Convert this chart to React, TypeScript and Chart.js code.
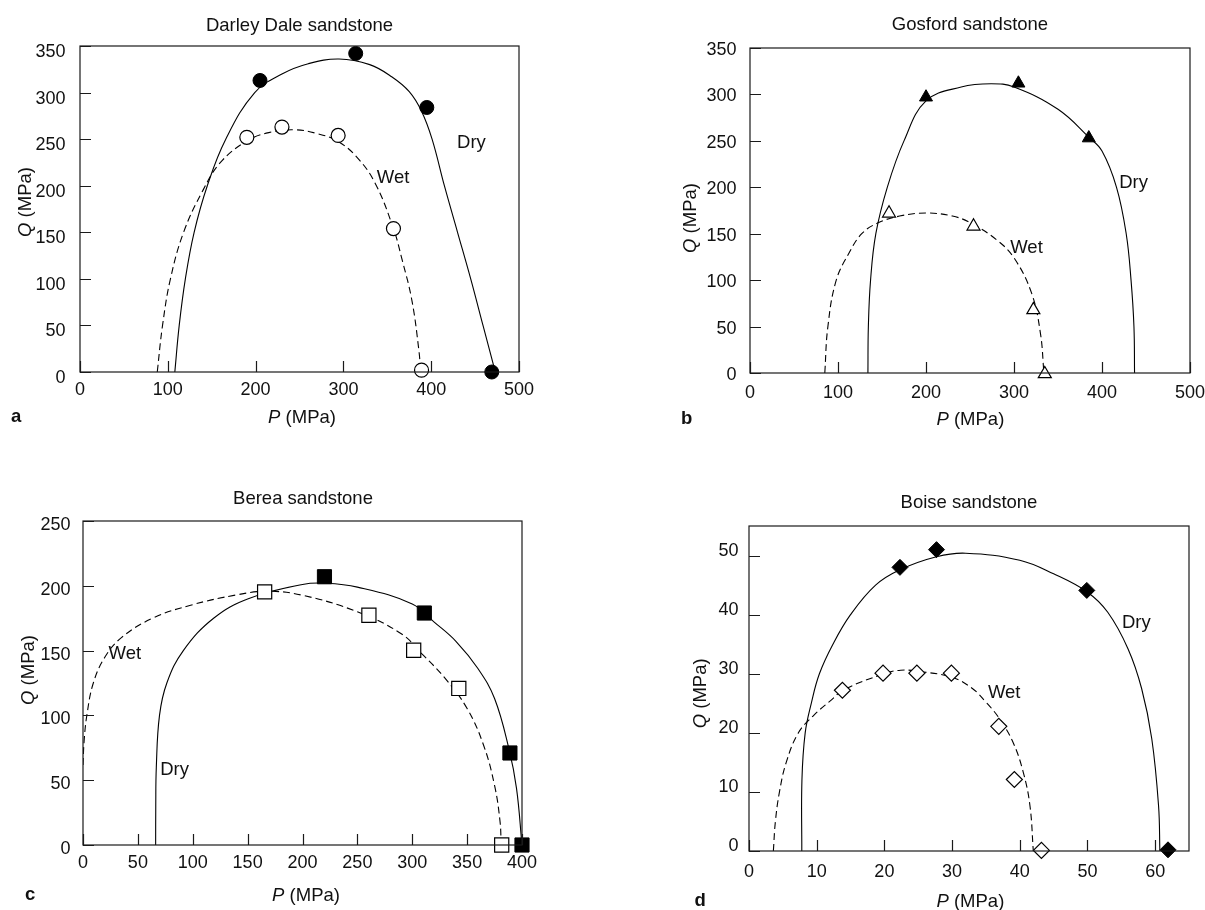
import React, { useEffect, useRef } from "react";
import { Chart, registerables } from "chart.js";

Chart.register(...registerables);

type Pt = [number, number];

const FONT = '"Liberation Sans", Arial, Helvetica, sans-serif';

// ---------- Panel a : Darley Dale ----------
const aTitle = "Darley Dale sandstone";
const aXTicks = [0, 100, 200, 300, 400, 500];
const aYTicks = [0, 50, 100, 150, 200, 250, 300, 350];
const aDryPts: Pt[] = [[205, 313], [314, 342], [395, 284], [469, 0]];
const aWetPts: Pt[] = [[190, 252], [230, 263], [294, 254], [357, 154], [389, 2]];
const aDryCurve: Pt[] = [[108, 0], [113, 50], [120, 100], [130, 150], [145, 200], [166, 250], [199, 300], [230, 320], [260, 331], [295, 336], [330, 330], [355, 317], [375, 301], [389, 280], [401, 250], [415, 200], [430, 150], [445, 100], [459, 50], [473, 0]];
const aWetCurve: Pt[] = [[88, 0], [94, 50], [103, 100], [118, 150], [140, 195], [160, 225], [190, 248], [215, 257], [245, 260], [270, 256], [293, 248], [315, 231], [336, 203], [357, 154], [367, 120], [378, 77], [386, 23], [388, 0]];

// ---------- Panel b : Gosford ----------
const bTitle = "Gosford sandstone";
const bXTicks = [0, 100, 200, 300, 400, 500];
const bYTicks = [0, 50, 100, 150, 200, 250, 300, 350];
const bDryPts: Pt[] = [[200, 297], [305, 312], [385, 253]];
const bWetPts: Pt[] = [[158, 172], [254, 158], [322, 68], [335, -1]];
const bDryCurve: Pt[] = [[134, 0], [134.5, 50], [137, 100], [143, 150], [156, 200], [175, 250], [200, 293], [240, 308], [274, 311.5], [300, 308], [350, 284], [385, 254], [400, 239], [416.5, 200], [427.5, 150], [433, 100], [436.3, 50], [437, 0]];
const bWetCurve: Pt[] = [[85, 0], [88.5, 50], [98, 100], [113, 130], [127, 150], [145, 161.5], [170, 169], [200, 172.3], [230, 169], [250, 162], [280, 143.6], [300, 124], [320, 86], [330, 43], [334, 0]];

// ---------- Panel c : Berea ----------
const cTitle = "Berea sandstone";
const cXTicks = [0, 50, 100, 150, 200, 250, 300, 350, 400];
const cYTicks = [0, 50, 100, 150, 200, 250];
const cDryPts: Pt[] = [[220, 207], [311, 179], [389, 71], [400, 0]];
const cWetPts: Pt[] = [[165.5, 195.3], [260.5, 177.3], [301.3, 150.3], [342.4, 120.8], [381.5, 0]];
const cDryCurve: Pt[] = [[66.2, 0], [66.3, 30], [66.8, 60], [69.7, 100], [76.4, 125], [91.4, 150], [119, 175], [150.6, 190], [200, 201], [220, 202], [250, 199], [300, 186], [320, 172], [340, 157], [360, 136], [375, 113], [388, 74.5], [395, 43.7], [400, 0]];
const cWetCurve: Pt[] = [[0, 61.7], [1, 80], [3.5, 100], [9.4, 125], [20, 145], [35, 160], [63.5, 175], [98, 185], [140, 193], [168, 195.8], [200, 192.7], [250, 179.9], [290, 163], [310, 146.5], [330, 128.5], [350, 105.3], [365, 77], [375, 46], [380, 18], [381, 0]];

// ---------- Panel d : Boise ----------
const dTitle = "Boise sandstone";
const dXTicks = [0, 10, 20, 30, 40, 50, 60];
const dYTicks = [0, 10, 20, 30, 40, 50];
const dDryPts: Pt[] = [[22.3, 48], [27.7, 51], [49.9, 44.1], [61.9, 0.2]];
const dWetPts: Pt[] = [[13.8, 27.2], [19.8, 30.1], [24.8, 30.1], [29.9, 30.1], [36.9, 21.1], [39.2, 12.1], [43.2, 0.1]];
const dDryCurve: Pt[] = [[7.8, 0], [7.82, 12], [8.3, 20], [9.2, 25], [10.4, 30], [12.4, 35], [15, 40], [18.7, 45], [22.3, 47.6], [27.7, 49.8], [32, 50.4], [40, 49.2], [45, 46.9], [50, 43.8], [53, 40.4], [56, 34.2], [58, 27.5], [59.5, 19], [60.5, 7.7], [60.7, 0]];
const dWetCurve: Pt[] = [[3.6, 0], [3.9, 5], [4.5, 10], [5.5, 15], [7.3, 20], [9.6, 23], [12.1, 25.5], [14, 27.3], [20, 30], [22.4, 30.6], [25, 30.4], [30, 29.4], [33, 27.5], [35, 25.2], [37, 22.4], [39, 18.4], [40.5, 13.4], [41.5, 7.7], [42, 0]];

// curve labels, anchored in data units (left, baseline)
const aLabels = [{ text: "Dry", at: [429.5, 240] as Pt }, { text: "Wet", at: [338, 203] as Pt }];
const bLabels = [{ text: "Dry", at: [419.6, 199] as Pt }, { text: "Wet", at: [295.7, 129] as Pt }];
const cLabels = [{ text: "Wet", at: [23.3, 143.4] as Pt }, { text: "Dry", at: [70.4, 54] as Pt }];
const dLabels = [{ text: "Dry", at: [55.1, 37.8] as Pt }, { text: "Wet", at: [35.3, 25.9] as Pt }];

interface Spec {
  key: string;
  letter: string;
  title: string;
  pos: { x: number; y: number; w: number; h: number };
  area: { left: number; top: number; right: number; xh: number };
  xMax: number;
  yMax: number;
  xTicks: number[];
  yTicks: number[];
  dryPts: Pt[];
  wetPts: Pt[];
  dryCurve: Pt[];
  wetCurve: Pt[];
  style: string;
  r: number;
  labels: { text: string; at: Pt }[];
  xPad: number;
  yPad: number;
  yOff: number;
  txt: { title: Pt; xt: Pt; yt: Pt; letter: Pt };
}

const panels: Spec[] = [
  {
    key: "a", letter: "a", title: aTitle,
    pos: { x: 0, y: 0, w: 600, h: 455 },
    area: { left: 80, top: 46, right: 81, xh: 83 },
    xMax: 500, yMax: 350, xTicks: aXTicks, yTicks: aYTicks,
    dryPts: aDryPts, wetPts: aWetPts, dryCurve: aDryCurve, wetCurve: aWetCurve,
    style: "circle", r: 7, labels: aLabels, xPad: 7.5, yPad: 14.5, yOff: 6,
    txt: { title: [299.5, 30.7], xt: [302, 422.7], yt: [31.3, 202], letter: [11, 421.7] },
  },
  {
    key: "b", letter: "b", title: bTitle,
    pos: { x: 600, y: 0, w: 605, h: 455 },
    area: { left: 150, top: 48, right: 15, xh: 82 },
    xMax: 500, yMax: 350, xTicks: bXTicks, yTicks: bYTicks,
    dryPts: bDryPts, wetPts: bWetPts, dryCurve: bDryCurve, wetCurve: bWetCurve,
    style: "triangle", r: 7.5, labels: bLabels, xPad: 9, yPad: 13.5, yOff: 2,
    txt: { title: [370, 30], xt: [370.4, 425], yt: [96, 218], letter: [81, 424] },
  },
  {
    key: "c", letter: "c", title: cTitle,
    pos: { x: 0, y: 455, w: 600, h: 455 },
    area: { left: 83, top: 66, right: 78, xh: 65 },
    xMax: 400, yMax: 250, xTicks: cXTicks, yTicks: cYTicks,
    dryPts: cDryPts, wetPts: cWetPts, dryCurve: cDryCurve, wetCurve: cWetCurve,
    style: "rect", r: 10, labels: cLabels, xPad: 7.5, yPad: 12.5, yOff: 4,
    txt: { title: [303, 49.3], xt: [306, 446], yt: [34, 215], letter: [25, 445] },
  },
  {
    key: "d", letter: "d", title: dTitle,
    pos: { x: 600, y: 455, w: 605, h: 455 },
    area: { left: 149, top: 71, right: 16, xh: 59 },
    xMax: 65, yMax: 55, xTicks: dXTicks, yTicks: dYTicks,
    dryPts: dDryPts, wetPts: dWetPts, dryCurve: dDryCurve, wetCurve: dWetCurve,
    style: "rectRot", r: 8, labels: dLabels, xPad: 10, yPad: 10.5, yOff: -4.7,
    txt: { title: [369, 53.3], xt: [370.4, 452], yt: [106, 238.3], letter: [94.5, 451] },
  },
];

const TEXT_SIZE = 18.5;
const fontStr = (italic = false, bold = false, size = TEXT_SIZE) =>
  `${italic ? "italic " : ""}${bold ? "bold " : ""}${size}px ${FONT}`;

type Part = { t: string; italic?: boolean; bold?: boolean };

function drawParts(ctx: CanvasRenderingContext2D, parts: Part[], x: number, y: number, align: "left" | "center") {
  let total = 0;
  const widths = parts.map((p) => {
    ctx.font = fontStr(p.italic, p.bold);
    const w = ctx.measureText(p.t).width;
    total += w;
    return w;
  });
  let cx = align === "center" ? x - total / 2 : x;
  ctx.textAlign = "left";
  ctx.textBaseline = "alphabetic";
  parts.forEach((p, i) => {
    ctx.font = fontStr(p.italic, p.bold);
    ctx.fillText(p.t, cx, y);
    cx += widths[i];
  });
}

const framePlugin = {
  id: "frameTicks",
  afterDraw(chart: any, _args: any, opts: any) {
    const spec: Spec = opts.spec;
    if (!spec) return;
    const { ctx, chartArea: ca } = chart;
    const xs = chart.scales.x;
    const ys = chart.scales.y;
    ctx.save();
    ctx.strokeStyle = "#1a1a1a";
    ctx.lineWidth = 1.2;
    ctx.strokeRect(ca.left, ca.top, ca.right - ca.left, ca.bottom - ca.top);
    ctx.beginPath();
    const TL = 11;
    xs.ticks.forEach((t: any) => {
      const px = Math.round(xs.getPixelForValue(t.value)) + 0.5;
      ctx.moveTo(px, ca.bottom);
      ctx.lineTo(px, ca.bottom - TL);
    });
    ys.ticks.forEach((t: any) => {
      const py = Math.round(ys.getPixelForValue(t.value)) + 0.5;
      ctx.moveTo(ca.left, py);
      ctx.lineTo(ca.left + TL, py);
    });
    ctx.stroke();

    ctx.fillStyle = "#111";
    drawParts(ctx, [{ t: spec.title }], spec.txt.title[0], spec.txt.title[1], "center");
    drawParts(ctx, [{ t: "P", italic: true }, { t: " (MPa)" }], spec.txt.xt[0], spec.txt.xt[1], "center");
    ctx.save();
    ctx.translate(spec.txt.yt[0], spec.txt.yt[1]);
    ctx.rotate(-Math.PI / 2);
    drawParts(ctx, [{ t: "Q", italic: true }, { t: " (MPa)" }], 0, 0, "center");
    ctx.restore();
    drawParts(ctx, [{ t: spec.letter, bold: true }], spec.txt.letter[0], spec.txt.letter[1], "left");
    spec.labels.forEach((l) => {
      const px = xs.getPixelForValue(l.at[0]);
      const py = ys.getPixelForValue(l.at[1]);
      drawParts(ctx, [{ t: l.text }], px, py, "left");
    });
    ctx.restore();
  },
};

const toXY = (arr: Pt[]) => arr.map(([x, y]) => ({ x, y }));

function makeConfig(s: Spec): any {
  const tickFont = { family: FONT, size: 18 };
  return {
    type: "scatter",
    data: {
      datasets: [
        {
          label: "Dry data",
          data: toXY(s.dryPts),
          pointStyle: s.style,
          pointRadius: s.r,
          backgroundColor: "#000",
          borderColor: "#000",
          borderWidth: 1,
          showLine: false,
          clip: false,
        },
        {
          label: "Wet data",
          data: toXY(s.wetPts),
          pointStyle: s.style,
          pointRadius: s.r,
          backgroundColor: "#fff",
          borderColor: "#000",
          borderWidth: 1.2,
          showLine: false,
          clip: false,
        },
        {
          label: "Dry",
          data: toXY(s.dryCurve),
          showLine: true,
          pointRadius: 0,
          borderColor: "#000",
          borderWidth: 1.1,
          tension: 0.4,
          fill: false,
        },
        {
          label: "Wet",
          data: toXY(s.wetCurve),
          showLine: true,
          pointRadius: 0,
          borderColor: "#000",
          borderWidth: 1.1,
          borderDash: [7, 4],
          tension: 0.4,
          fill: false,
        },
      ],
    },
    options: {
      responsive: false,
      animation: false,
      events: [],
      layout: { padding: { left: 0, top: s.area.top, right: s.area.right, bottom: 0 } },
      plugins: {
        legend: { display: false },
        tooltip: { enabled: false },
        title: { display: false },
        frameTicks: { spec: s },
      },
      scales: {
        x: {
          type: "linear",
          min: 0,
          max: s.xMax,
          grid: { display: false, drawTicks: false },
          border: { display: false },
          ticks: { font: tickFont, color: "#111", padding: s.xPad, maxRotation: 0, autoSkip: false },
          afterBuildTicks: (sc: any) => {
            sc.ticks = s.xTicks.map((v) => ({ value: v }));
          },
          afterFit: (sc: any) => {
            sc.height = s.area.xh;
            sc.paddingLeft = 0;
            sc.paddingRight = 0;
          },
        },
        y: {
          type: "linear",
          min: 0,
          max: s.yMax,
          grid: { display: false, drawTicks: false },
          border: { display: false },
          ticks: { font: tickFont, color: "#111", padding: s.yPad, labelOffset: s.yOff, autoSkip: false },
          afterBuildTicks: (sc: any) => {
            sc.ticks = s.yTicks.map((v) => ({ value: v }));
          },
          afterFit: (sc: any) => {
            sc.width = s.area.left;
            sc.paddingTop = 0;
            sc.paddingBottom = 0;
          },
        },
      },
    },
    plugins: [framePlugin],
  };
}

function Panel({ spec }: { spec: Spec }) {
  const ref = useRef<HTMLCanvasElement>(null);
  useEffect(() => {
    if (!ref.current) return;
    const chart = new Chart(ref.current, makeConfig(spec));
    return () => chart.destroy();
  }, [spec]);
  return (
    <canvas
      ref={ref}
      width={spec.pos.w}
      height={spec.pos.h}
      style={{ position: "absolute", left: spec.pos.x, top: spec.pos.y, width: spec.pos.w, height: spec.pos.h }}
    />
  );
}

export default function App() {
  return (
    <div style={{ position: "absolute", left: 0, top: 0, width: 1205, height: 910, background: "#fff", overflow: "hidden" }}>
      {panels.map((p) => (
        <Panel key={p.key} spec={p} />
      ))}
    </div>
  );
}
